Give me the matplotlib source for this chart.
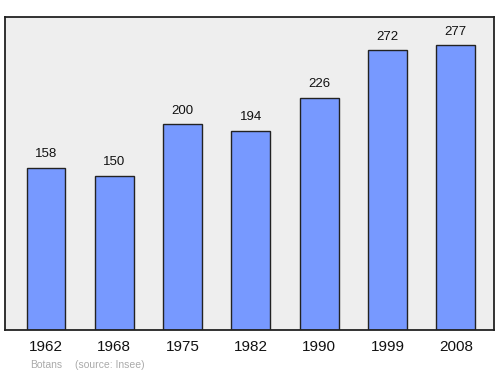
import matplotlib
matplotlib.use('Agg')
from matplotlib import pyplot

pyplot.rcParams['font.family'] = ['Liberation Sans', 'DejaVu Sans']

# population data
YEARS = ['1962', '1968', '1975', '1982', '1990', '1999', '2008']
POPULATION = [158, 150, 200, 194, 226, 272, 277]

BAR_COLOR = '#7799ff'
BG_COLOR = '#eeeeee'

figure = pyplot.figure(figsize=(5.0, 3.74), dpi=100)
axes = figure.add_axes([5 / 500, 1 - 330 / 374, 489 / 500, 313 / 374])
axes.set_facecolor(BG_COLOR)

positions = range(len(YEARS))
axes.bar(positions, POPULATION, width=0.57, color=BAR_COLOR,
         edgecolor='#222222', linewidth=1.0, zorder=2)

for pos, value in zip(positions, POPULATION):
    axes.annotate(str(value), (pos, value), xytext=(0, 5.5), textcoords='offset points',
                  ha='center', va='bottom', fontsize=9.5, color='#111111')

axes.set_xlim(-0.6, 6.56)
axes.set_ylim(0, 304.5)
axes.set_xticks(list(positions))
axes.set_xticklabels(YEARS, fontsize=11, color='#111111')
axes.tick_params(axis='x', length=0, pad=7.5)
axes.set_yticks([])
for spine in axes.spines.values():
    spine.set_linewidth(1.3)
    spine.set_color('#222222')

figure.text(30 / 500, 1 - 365.5 / 374, 'Botans', fontsize=7.5, color='#aaaaaa', va='center')
figure.text(75 / 500, 1 - 365.5 / 374, '(source: Insee)', fontsize=7.5, color='#aaaaaa', va='center')

pyplot.savefig('out.png', dpi=100)
